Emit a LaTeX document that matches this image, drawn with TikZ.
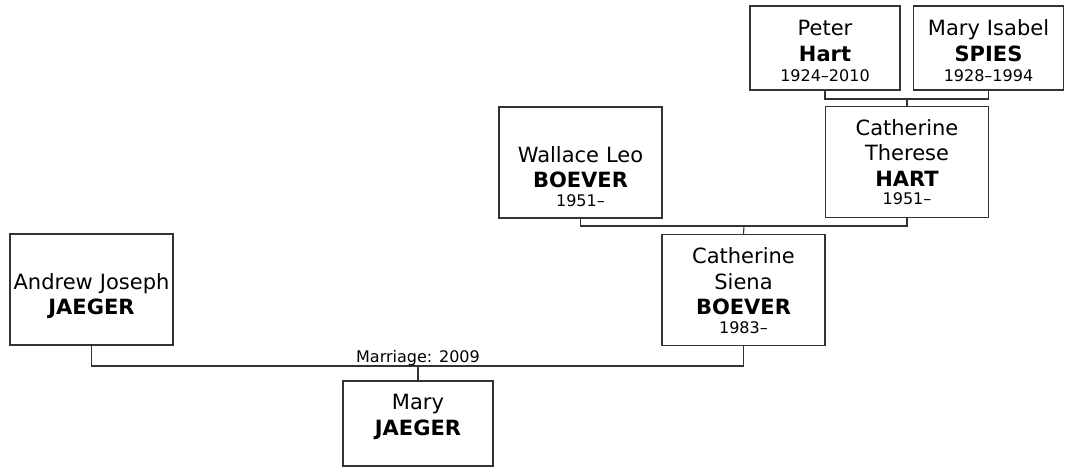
\documentclass[tikz,border=0pt]{standalone}
\usepackage{fontspec}
\setmainfont{DejaVu Sans}
\definecolor{linec}{HTML}{333333}
\newcommand{\dt}[1]{{\fontsize{16}{20}\selectfont #1}}
\newcommand{\dgap}{\\[-7.4pt]}
\begin{document}
\begin{tikzpicture}[x=1pt,y=-1pt,
  person/.style={draw=linec, line width=1.2pt, fill=white, inner sep=0pt, minimum width=#1},
  bigbox/.style={person=163pt, minimum height=111pt},
  smallbox/.style={person=150pt, minimum height=84pt},
  txt/.style={anchor=base, inner sep=0pt, align=center, text width=160pt,
    font=\fontsize{21}{25.7}\selectfont},
  link/.style={draw=linec, line width=1.1pt}]
\useasboundingbox (0,0) rectangle (1066,468);

% boxes
\node[bigbox] (andrew) at (91.5,289.5) {};
\node[smallbox, minimum height=85pt] (mary) at (418,423.5) {};
\node[bigbox] (siena) at (743.5,290) {};
\node[bigbox] (wallace) at (580.5,162.5) {};
\node[bigbox] (therese) at (907,162.3) {};
\node[smallbox] (peter) at (825,48) {};
\node[smallbox] (spies) at (988.5,48) {};

% texts (first baseline positions)
\node[txt] (andrew-t) at (91.5,289) {Andrew Joseph\\\textbf{JAEGER}};
\node[txt] (mary-t) at (418,409.3) {Mary\\\textbf{JAEGER}};
\node[txt] (siena-t) at (743.5,263.3) {Catherine\\Siena\\\textbf{BOEVER}\dgap\dt{1983–}};
\node[txt] (wallace-t) at (580.5,162.3) {Wallace Leo\\\textbf{BOEVER}\dgap\dt{1951–}};
\node[txt] (therese-t) at (907,135.3) {Catherine\\Therese\\\textbf{HART}\dgap\dt{1951–}};
\node[txt] (peter-t) at (825,36) {Peter\\\textbf{Hart}\\[-5.7pt]\dt{1924–2010}};
\node[txt] (spies-t) at (988.5,36) {Mary Isabel\\\textbf{SPIES}\\[-5.7pt]\dt{1928–1994}};

\coordinate (m1) at (418,366);
\coordinate (m2) at (744,226);
\coordinate (m3) at (907,99);

\draw[link] (andrew.south) |- (m1) -| (siena.south);
\draw[link] (m1) -- (mary.north);
\node[anchor=base, inner sep=0pt, font=\fontsize{16}{20}\selectfont] (marr) at (418,362) {Marriage: 2009};

\draw[link] (wallace.south) |- (m2) -| (therese.south);
\draw[link] (m2) -- (siena.north);

\draw[link] (peter.south) |- (m3) -| (spies.south);
\draw[link] (m3) -- (therese.north);
\end{tikzpicture}
\end{document}
